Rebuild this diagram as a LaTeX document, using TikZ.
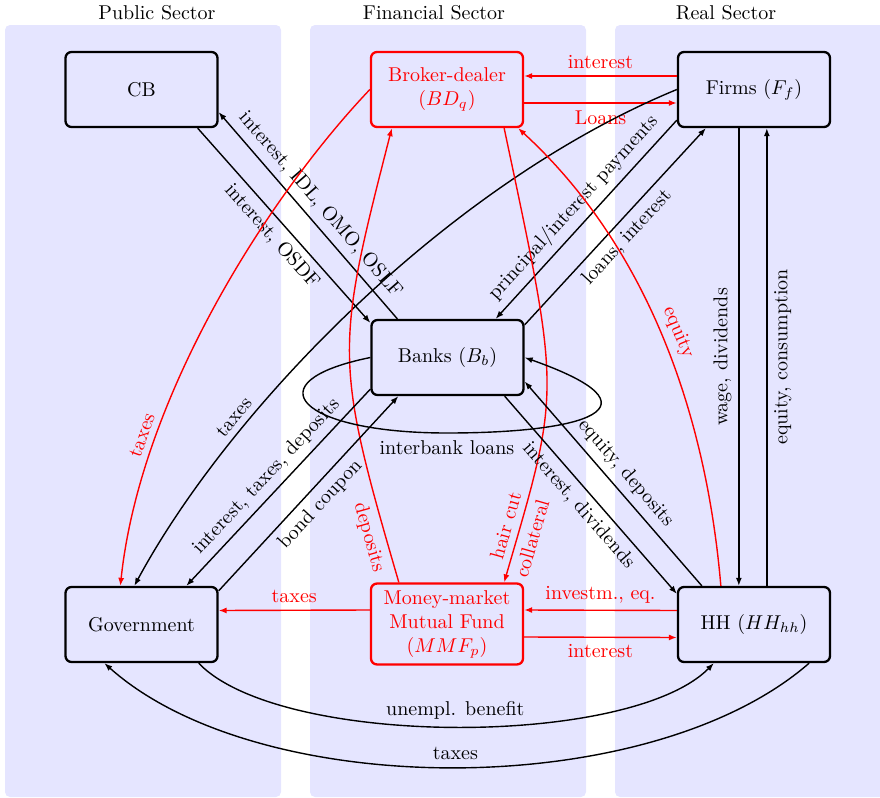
\documentclass[tikz,border=0pt]{standalone}
\usetikzlibrary{arrows.meta,calc}
\begin{document}
\begin{tikzpicture}[x=0.5pt,y=-0.5pt,
  box/.style={draw, line width=1.15pt, rounded corners=3pt, fill=blue!10, minimum width=76pt, minimum height=37.5pt, align=center},
  rbox/.style={box, draw=red, text=red},
  flow/.style={-{Latex[length=4pt,width=3pt]}, line width=0.7pt},
  rflow/.style={flow, draw=red},
  lab/.style={sloped},
  rlab/.style={text=red}
]
\useasboundingbox (0,0) rectangle (880,798);
% sectors
\fill[blue!10, rounded corners=2.5pt] (5,25) rectangle (281,797);
\fill[blue!10, rounded corners=2.5pt] (310,25) rectangle (586,797);
\fill[blue!10, rounded corners=2.5pt] (615,25) rectangle (895,797);
\node (tp) at (157,13) {Public Sector};
\node (tf) at (434,13) {Financial Sector};
\node (tr) at (726,13) {Real Sector};
% nodes
\node[box] (CB) at (141.5,89.5) {CB};
\node[rbox] (BD) at (447,89.5) {Broker-dealer\\$(BD_q)$};
\node[box] (F) at (754,89.5) {Firms $(F_f)$};
\node[box] (B) at (447.5,357.5) {Banks $(B_b)$};
\node[box] (G) at (141.5,624.5) {Government};
\node[rbox] (M) at (447,624) {Money-market\\Mutual Fund\\$(MMF_p)$};
\node[box] (H) at (754,624.5) {HH $(HH_{hh})$};
% CB - Banks
\draw[flow] ($(CB.south east)+(-21,0)$) -- node[lab,below]{interest, OSDF} ($(B.north west)+(0,4)$);
\draw[flow] ($(B.north west)+(27,0)$) -- node[lab,above]{interest, IDL, OMO, OSLF} ($(CB.south east)+(0,-16)$);
% Firms - Banks
\draw[flow] ($(F.south west)+(0,-8)$) -- node[lab,above]{principal/interest payments} ($(B.north east)+(-29,0)$);
\draw[flow] ($(B.north east)+(0,6)$) -- node[lab,below]{loans, interest} ($(F.south west)+(29,0)$);
% BD - Firms
\draw[rflow] ($(F.west)+(0,-13.5)$) -- node[above,rlab]{interest} ($(BD.east)+(0,-13.5)$);
\draw[rflow] ($(BD.east)+(0,13.5)$) -- node[below,rlab]{Loans} ($(F.west)+(0,13.5)$);
% long curves to Government
\draw[flow] (F.west) .. controls (445,185) and (228,412) .. node[lab,above,pos=0.71]{taxes} ($(G.north west)+(70,0)$);
\draw[rflow] (BD.west) .. controls (265,200) and (140,400) .. node[lab,above,pos=0.74,rlab]{taxes} ($(G.north west)+(56,0)$);
% MMF - BD
\draw[rflow] ($(M.north west)+(29,0)$) .. controls (334,360) and (335,350) .. node[lab,below,pos=0.08,rlab]{deposits} ($(BD.south west)+(22,0)$);
\draw[rflow] ($(BD.south east)+(-20,0)$) .. controls (561,397) and (561,387) .. node[lab,above,pos=0.9,rlab]{hair cut} node[lab,below,pos=0.91,rlab]{collateral} ($(M.north east)+(-20,0)$);
% HH - BD
\draw[rflow] ($(H.north west)+(44,0)$) .. controls (705,400) and (640,240) .. node[lab,above,pos=0.48,rlab]{equity} ($(BD.south east)+(-6,0)$);
% Firms - HH
\draw[flow] ($(F.south west)+(62,0)$) -- node[rotate=90,above]{wage, dividends} ($(H.north west)+(62,0)$);
\draw[flow] ($(H.north west)+(90,0)$) -- node[rotate=90,below]{equity, consumption} ($(F.south west)+(90,0)$);
% Banks - HH
\draw[flow] ($(B.south east)+(-20,0)$) -- node[lab,below]{interest, dividends} ($(H.north west)+(0,8)$);
\draw[flow] ($(H.north west)+(25,0)$) -- node[lab,above]{equity, deposits} ($(B.east)+(0,24)$);
% Banks - Government
\draw[flow] ($(B.south west)+(0,-7)$) -- node[lab,above]{interest, taxes, deposits} ($(G.north west)+(122,0)$);
\draw[flow] ($(G.north east)+(0,5)$) -- node[lab,below]{bond coupon} ($(B.south west)+(28,0)$);
% interbank loop
\draw[flow] (B.west) .. controls (250,382) and (300,433) .. (447,433) node[below]{interbank loans} .. controls (585,433) and (668,408) .. (B.east);
% MMF horizontals
\draw[rflow] ($(M.west)+(0,-14)$) -- node[above,rlab]{taxes} ($(G.east)+(0,-14)$);
\draw[rflow] ($(H.west)+(0,-14)$) -- node[above,rlab]{investm., eq.} ($(M.east)+(0,-14)$);
\draw[rflow] ($(M.east)+(0,13)$) -- node[below,rlab]{interest} ($(H.west)+(0,13)$);
% bottom curves
\draw[flow] ($(G.south east)+(-20,0)$) .. controls (280,748) and (630,748) .. node[above]{unempl. benefit} ($(H.south west)+(37,0)$);
\draw[flow] ($(H.south east)+(-22,0)$) .. controls (650,802) and (260,802) .. node[above]{taxes} ($(G.south west)+(40,0)$);
\end{tikzpicture}
\end{document}
